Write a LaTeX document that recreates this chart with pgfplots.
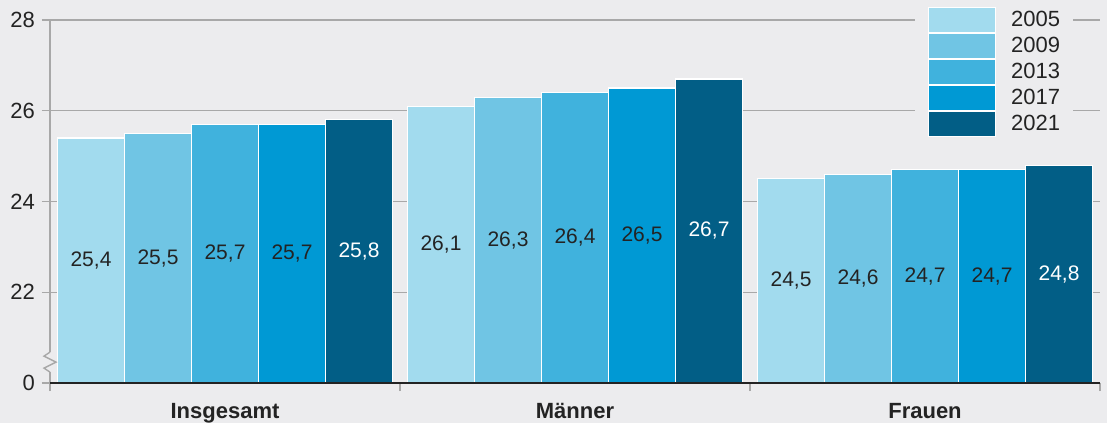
\documentclass[border=0pt]{standalone}
\usepackage{pgfplots}
\pgfplotsset{compat=1.18}
\usepackage{fontspec}
\setmainfont{Liberation Sans}
\definecolor{bg}{RGB}{236,236,238}
\definecolor{cA}{RGB}{162,219,238}
\definecolor{cB}{RGB}{112,197,228}
\definecolor{cC}{RGB}{64,178,221}
\definecolor{cD}{RGB}{0,153,212}
\definecolor{cE}{RGB}{2,94,134}
\definecolor{gridc}{RGB}{168,168,168}
\definecolor{txt}{RGB}{35,35,35}
\begin{document}
\begin{tikzpicture}
\fill[bg] (-25pt,-20pt) rectangle (528.5pt,191.5pt);
\begin{axis}[
  at={(0,0)}, anchor=south west,
  scale only axis, width=525pt, height=181.5pt,
  xmin=-0.5, xmax=2.5, ymin=20, ymax=28,
  ybar=0pt, bar width=33.5pt,
  clip mode=individual,
  axis lines*=left,
  x axis line style={draw=none},
  y axis line style={draw=gridc, line width=0.7pt},
  ytick={20,22,24,26,28}, yticklabels={0,22,24,26,28},
  ymajorgrids, grid style={gridc, line width=0.7pt},
  tick align=outside, major tick length=4pt,
  tick style={gridc, line width=0.7pt},
  xtick={-0.5,0.5,1.5,2.5}, xticklabels={{},{},{},{}},
  extra x ticks={0,1,2},
  extra x tick labels={Insgesamt,Männer,Frauen},
  extra x tick style={major tick length=0pt, grid=none,
     xticklabel style={font=\fontsize{11}{13}\selectfont\bfseries, text=txt, yshift=-6.5pt}},
  ticklabel style={font=\fontsize{11}{13}\selectfont, text=txt},
  /pgf/number format/assume math mode=true,
  nodes near coords={\pgfmathprintnumber[fixed,fixed zerofill,precision=1,use comma]{\pgfplotspointmeta}},
  visualization depends on=rawy\as\rawy,
  every node near coord/.append style={font=\fontsize{10.5}{12}\selectfont, anchor=center, yshift={-(\rawy-20)*11.34375pt}},
  lg/.style={legend image code/.code={\draw[##1, draw=white, line width=0.6pt] (0pt,-6.2pt) rectangle (33.5pt,6.2pt);}},
  legend style={at={(axis description cs:0.8238,1.0523)}, anchor=north west, fill=bg, draw=none,
     inner xsep=6.5pt, inner ysep=3pt, outer sep=0pt, row sep=0pt, column sep=7.5pt,
     nodes={inner sep=0pt, text=txt, font=\fontsize{11}{13}\selectfont}},
  legend cell align=left,
]
\addplot[fill=cA, draw=white, line width=0.6pt, lg, every node near coord/.append style={text=txt}] coordinates {(0,25.4) (1,26.1) (2,24.5)};
\addplot[fill=cB, draw=white, line width=0.6pt, lg, every node near coord/.append style={text=txt}] coordinates {(0,25.5) (1,26.3) (2,24.6)};
\addplot[fill=cC, draw=white, line width=0.6pt, lg, every node near coord/.append style={text=txt}] coordinates {(0,25.7) (1,26.4) (2,24.7)};
\addplot[fill=cD, draw=white, line width=0.6pt, lg, every node near coord/.append style={text=txt}] coordinates {(0,25.7) (1,26.5) (2,24.7)};
\addplot[fill=cE, draw=white, line width=0.6pt, lg, every node near coord/.append style={text=white}] coordinates {(0,25.8) (1,26.7) (2,24.8)};
\legend{2005,2009,2013,2017,2021}
\draw[txt, line width=1pt] (axis cs:-0.5,20) -- (axis cs:2.5,20);
\fill[bg] ([xshift=-1pt]axis cs:-0.5,20.24) rectangle ([xshift=1pt]axis cs:-0.5,20.68);
\draw[gridc, line width=0.7pt] (axis cs:-0.5,20.24) -- ++(-3pt,2pt) -- ++(6pt,3pt) -- ++(-6pt,3pt) -- ++(3pt,2pt);
\end{axis}
\pgfresetboundingbox
\path (-25pt,-20pt) rectangle (528.5pt,191.5pt);
\end{tikzpicture}
\end{document}
